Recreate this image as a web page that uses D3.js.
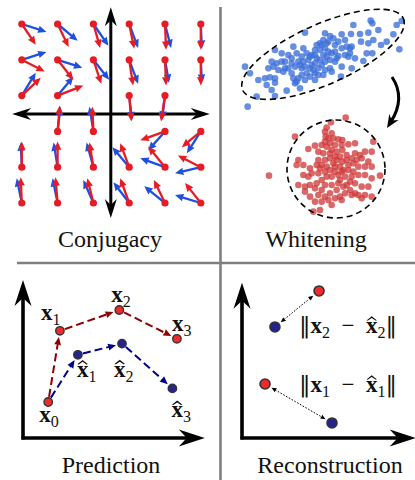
<!DOCTYPE html>
<html>
<head>
<meta charset="utf-8">
<script src="https://cdn.jsdelivr.net/npm/d3@7"></script>
<style>
  html, body { margin: 0; padding: 0; background: #fff; }
  svg { display: block; }
</style>
</head>
<body>
<script>
// ================= data =================
const panelTitles = ["Conjugacy", "Whitening", "Prediction", "Reconstruction"];

// Conjugacy: grid anchors and the two vector fields attached to them
const fieldPoints = [
  [-2.5, 2.5], [-1.5, 2.5], [-0.5, 2.5], [0.5, 2.5], [1.5, 2.5], [2.5, 2.5],
  [-2.5, 1.5], [-1.5, 1.5], [-0.5, 1.5], [0.5, 1.5], [1.5, 1.5], [2.5, 1.5],
  [-2.5, 0.5], [-1.5, 0.5], [0.5, 0.5], [1.5, 0.5],
  [-1.5, -0.5], [-0.5, -0.5], [1.5, -0.5], [2.5, -0.5],
  [-2.5, -1.5], [-1.5, -1.5], [-0.5, -1.5], [0.5, -1.5], [1.5, -1.5], [2.5, -1.5],
  [-2.5, -2.5], [-1.5, -2.5], [-0.5, -2.5], [0.5, -2.5], [1.5, -2.5], [2.5, -2.5]
];
const redVectors = [
  [0.39, -0.58], [0.31, -0.64], [0.19, -0.67], [0.14, -0.69], [0.03, -0.72], [0.0, -0.72],
  [0.64, -0.33], [0.44, -0.56], [0.22, -0.67], [0.11, -0.72], [0.03, -0.72], [0.0, -0.72],
  [0.53, 0.50], [0.72, 0.28], [0.06, -0.72], [-0.11, -0.72],
  [0.06, 0.72], [-0.03, 0.69], [-0.69, -0.25], [-0.53, -0.44],
  [0.0, 0.72], [0.0, 0.72], [-0.11, 0.69], [-0.25, 0.67], [-0.47, 0.58], [-0.64, 0.33],
  [-0.03, 0.72], [-0.06, 0.72], [-0.17, 0.69], [-0.25, 0.69], [-0.31, 0.64], [-0.44, 0.56]
];
const blueVectors = [
  [0.69, -0.22], [0.56, -0.47], [0.42, -0.61], [0.25, -0.67], [0.17, -0.67], [0.03, -0.69],
  [0.69, 0.22], [0.69, -0.22], [0.44, -0.56], [0.25, -0.67], [0.11, -0.64], [0.03, -0.64],
  [0.39, 0.64], [0.44, 0.53], [0.08, -0.69], [-0.08, -0.67],
  [0.08, 0.69], [-0.11, 0.69], [-0.47, -0.53], [-0.39, -0.61],
  [-0.03, 0.69], [-0.11, 0.69], [-0.19, 0.69], [-0.47, 0.56], [-0.69, 0.25], [-0.72, -0.17],
  [-0.14, 0.69], [-0.14, 0.69], [-0.28, 0.64], [-0.44, 0.58], [-0.58, 0.47], [-0.72, 0.22]
];
const conjAxisX = [-2.77, 2.75];
const conjAxisY = [-2.92, 2.97];

// Whitening: correlated samples (before) and whitened samples (after), in sample units
const rawSamples = [
  [407,62],[412,70],[485,75],[500,63],[355,75],[430,90],[400,98],[475,103],[210,98],[270,100],
  [285,108],[320,103],[348,102],[375,102],[493,148],[455,125],[438,135],[415,120],[400,130],[378,125],
  [395,160],[412,160],[385,183],[350,140],[345,160],[330,120],[310,125],[300,135],[295,115],[275,130],
  [260,135],[245,135],[240,150],[255,150],[270,145],[280,155],[300,155],[320,145],[335,140],[340,170],
  [360,175],[350,205],[320,200],[318,230],[300,185],[285,180],[270,185],[260,195],[250,205],[240,220],
  [245,175],[230,165],[215,160],[200,170],[185,160],[175,140],[160,165],[150,185],[140,185],[125,190],
  [115,200],[100,205],[110,185],[130,210],[145,215],[160,205],[170,190],[180,200],[195,195],[205,185],
  [220,180],[230,195],[240,190],[255,180],[270,210],[285,205],[290,215],[265,225],[240,240],[225,230],
  [210,240],[200,225],[190,235],[175,235],[180,250],[195,265],[170,220],[120,235],[105,232],[90,235],
  [70,240],[95,255],[120,248],[110,270],[120,288],[155,272],[185,245],[215,220],[235,210],[250,225],
  [45,220],[30,200],[65,290],[38,320],[120,150],[140,160],[150,205],[200,205],[210,200],[225,205],
  [205,145],[190,185],[170,175],[225,170],[240,165],[265,165],[275,170],[290,160],[310,168],[255,130],
  [265,120],[280,125],[305,175],[330,165],[345,145]
];
const whiteSamples = [
  [42,212],[272,38],[120,95],[175,320],[195,315],[355,110],[228,52],[215,68],[210,80],[212,95],
  [220,100],[235,100],[250,103],[262,105],[225,115],[240,120],[280,118],[300,115],[160,132],[180,122],
  [200,120],[215,125],[190,140],[205,145],[230,135],[245,140],[262,135],[275,150],[300,145],[315,150],
  [330,140],[350,140],[290,160],[305,165],[320,160],[340,170],[350,185],[330,185],[310,185],[295,175],
  [275,165],[255,155],[240,155],[225,160],[210,165],[190,165],[185,180],[165,190],[145,180],[130,165],
  [125,180],[145,210],[160,215],[190,205],[210,200],[225,195],[240,185],[255,185],[265,195],[280,195],
  [295,200],[310,210],[330,210],[350,220],[375,212],[340,245],[320,245],[300,235],[285,230],[270,215],
  [250,210],[230,215],[215,215],[200,225],[185,235],[210,240],[230,240],[250,235],[265,245],[285,255],
  [300,265],[270,265],[245,255],[225,265],[200,255],[180,250],[165,240],[150,245],[130,240],[150,260],
  [165,275],[190,270],[210,275],[220,285],[240,280],[255,275],[200,290],[180,290],[230,300],[260,285],
  [290,270],[310,270],[330,270],[350,275],[320,280],[240,200],[255,225],[275,240],[235,175],[215,185],
  [200,180],[262,170],[280,180],[245,165],[225,145],[210,110],[195,190],[170,205],[260,120],[230,85],
  [260,200],[290,215]
];
const rawEllipse = { cx: 264, cy: 163, rx: 264, ry: 90, angle: -24 };
const whiteCircle = { cx: 243, cy: 192, r: 147 };
const transformArrow = [[471, 231], [513, 294], [456, 384]];

// Prediction: true trajectory x0..x3 and predicted x̂1..x̂3
const trueStates = [[1.4, 2.25], [2.05, 6.7], [5.35, 8.0], [8.55, 6.2]];
const predStates = [[3.05, 5.2], [5.5, 5.9], [8.3, 3.1]];
const trueLabels = ["0", "1", "2", "3"];
const predLabels = ["1", "2", "3"];

// Reconstruction: pairs of true / reconstructed points
const reconTrue = [[1.28, 3.375], [4.28, 9.19]];
const reconHat = [[5.0, 0.94], [1.83, 6.94]];
const reconLabels = ["1", "2"];

// ================= drawing =================
const W = 415, H = 480;
const SERIF = "Liberation Serif";
const svg = d3.select("body").append("svg").attr("width", W).attr("height", H)
  .attr("font-family", SERIF);

const RED = "#e51c23", BLUE = "#1f4fe0";
const DARKRED = "#8f0000", DARKBLUE = "#00008f";
const DOTRED = "#f02a2a", DOTBLUE = "#24248f";

function unit(a, b) {
  const dx = b[0] - a[0], dy = b[1] - a[1];
  const L = Math.hypot(dx, dy) || 1;
  return [dx / L, dy / L, L];
}
// arrow head with optional concave back (stealth style)
function head(g, tip, u, len, wid, notch, color) {
  const px = -u[1], py = u[0];
  const bx = tip[0] - u[0] * len, by = tip[1] - u[1] * len;
  const nx = tip[0] - u[0] * (len - notch), ny = tip[1] - u[1] * (len - notch);
  const pts = [tip, [bx + px * wid / 2, by + py * wid / 2], [nx, ny], [bx - px * wid / 2, by - py * wid / 2]];
  g.append("path").attr("d", "M" + pts.map(p => p[0].toFixed(2) + "," + p[1].toFixed(2)).join("L") + "Z")
    .attr("fill", color);
}
function seg(g, a, b, color, w, dash) {
  const l = g.append("line").attr("x1", a[0]).attr("y1", a[1]).attr("x2", b[0]).attr("y2", b[1])
    .attr("stroke", color).attr("stroke-width", w);
  if (dash) l.attr("stroke-dasharray", dash);
  return l;
}
// axis line with a head at the end (and optionally at the start)
function axisArrow(g, a, b, w, len, wid, notch, both) {
  const u = unit(a, b);
  const back = len - notch;
  const s = both ? [a[0] + u[0] * back, a[1] + u[1] * back] : a;
  const e = [b[0] - u[0] * back, b[1] - u[1] * back];
  seg(g, s, e, "#000", w);
  head(g, b, u, len, wid, notch, "#000");
  if (both) head(g, a, [-u[0], -u[1]], len, wid, notch, "#000");
}

// -------- dividers --------
const dividers = svg.append("g").attr("stroke", "#7f7f7f").attr("stroke-width", 2.6);
dividers.append("line").attr("x1", 220.5).attr("x2", 220.5).attr("y1", 7).attr("y2", 480);
dividers.append("line").attr("x1", 17).attr("x2", 415).attr("y1", 263).attr("y2", 263);

// -------- panel titles --------
const titlePos = [[110, 247], [316, 247], [111, 473], [330, 473]];
svg.append("g").selectAll("text").data(panelTitles).join("text")
  .attr("x", (d, i) => titlePos[i][0]).attr("y", (d, i) => titlePos[i][1])
  .attr("font-family", SERIF).attr("fill", "#111")
  .attr("text-anchor", "middle").attr("font-size", 24).text(d => d);

// -------- Conjugacy --------
{
  const g = svg.append("g");
  const x = d3.scaleLinear().domain([-2.5, 2.5]).range([21.8, 200.8]);
  const y = d3.scaleLinear().domain([-2.5, 2.5]).range([203, 24]);
  const x0 = x(0) - 0.5, y0 = y(0) + 0.5;
  axisArrow(g, [x(conjAxisX[0]), y0], [x(conjAxisX[1]), y0], 3, 19, 12, 6, true);
  axisArrow(g, [x0, y(conjAxisY[0])], [x0, y(conjAxisY[1])], 3, 19, 12, 6, true);

  function drawField(vectors, color) {
    fieldPoints.forEach((p, i) => {
      const a = [x(p[0]), y(p[1])];
      const b = [x(p[0] + vectors[i][0]), y(p[1] + vectors[i][1])];
      const u = unit(a, b);
      seg(g, a, [b[0] - u[0] * 5, b[1] - u[1] * 5], color, 2.3);
      head(g, b, u, 8.5, 7.5, 0.5, color);
    });
  }
  drawField(blueVectors, BLUE);
  drawField(redVectors, RED);
  g.append("g").selectAll("circle").data(fieldPoints).join("circle")
    .attr("cx", d => x(d[0])).attr("cy", d => y(d[1])).attr("r", 3.6).attr("fill", RED);
}

// -------- Whitening --------
{
  const g = svg.append("g");
  const rx = d3.scaleLinear().domain([0, 540]).range([235, 415]);
  const ry = d3.scaleLinear().domain([0, 330]).range([0, 110]);
  const wx = d3.scaleLinear().domain([0, 420]).range([255, 395]);
  const wy = d3.scaleLinear().domain([0, 360]).range([105, 225]);

  g.append("g").selectAll("circle").data(rawSamples).join("circle")
    .attr("cx", d => rx(d[0])).attr("cy", d => ry(d[1])).attr("r", 3.3)
    .attr("fill", "#3c6fd8").attr("fill-opacity", 0.78);
  g.append("ellipse")
    .attr("cx", rx(rawEllipse.cx)).attr("cy", ry(rawEllipse.cy))
    .attr("rx", rx(rawEllipse.rx) - rx(0)).attr("ry", ry(rawEllipse.ry) - ry(0))
    .attr("transform", `rotate(${rawEllipse.angle},${rx(rawEllipse.cx)},${ry(rawEllipse.cy)})`)
    .attr("fill", "none").attr("stroke", "#000").attr("stroke-width", 1.6).attr("stroke-dasharray", "6,4");

  g.append("g").selectAll("circle").data(whiteSamples).join("circle")
    .attr("cx", d => wx(d[0])).attr("cy", d => wy(d[1])).attr("r", 3.3)
    .attr("fill", "#cf3636").attr("fill-opacity", 0.75);
  g.append("circle")
    .attr("cx", wx(whiteCircle.cx)).attr("cy", wy(whiteCircle.cy)).attr("r", wx(whiteCircle.r) - wx(0))
    .attr("fill", "none").attr("stroke", "#000").attr("stroke-width", 1.6).attr("stroke-dasharray", "6,4");

  const P = transformArrow.map(d => [rx(d[0]), ry(d[1])]);
  const u = unit(P[1], P[2]);
  const end = [P[2][0] - u[0] * 7, P[2][1] - u[1] * 7];
  g.append("path").attr("d", `M${P[0]}Q${P[1]} ${end}`).attr("fill", "none")
    .attr("stroke", "#000").attr("stroke-width", 3);
  head(g, P[2], u, 13, 11, 4, "#000");
}

// -------- math label helper --------
function mathText(g, xPos, yPos, parts, anchor, size) {
  const fs = size || 23, sub = Math.round(fs * 0.7), drop = fs * 0.22, xh = fs * 0.45;
  const t = g.append("text").attr("x", xPos).attr("y", yPos).attr("text-anchor", anchor || "start")
    .attr("font-size", fs).attr("font-family", SERIF).attr("fill", "#111");
  let idx = 0, shift = 0;
  const hats = [];
  parts.forEach(p => {
    const ts = t.append("tspan").text(p.t);
    if (p.bold) ts.attr("font-weight", "bold");
    if (p.sub) { ts.attr("font-size", sub).attr("dy", drop - shift); shift = drop; }
    else if (shift) { ts.attr("dy", -shift); shift = 0; }
    if (p.hat) hats.push(idx);
    if (p.font) ts.attr("font-family", p.font);
    idx += p.t.length;
  });
  hats.forEach(i => {
    const r = t.node().getExtentOfChar(i);
    const cx = r.x + r.width / 2, b = yPos - xh;
    g.append("path")
      .attr("d", `M${cx - 5},${b - 2.5}L${cx},${b - 6.5}L${cx + 5},${b - 2.5}` +
                 `L${cx + 4.2},${b - 1.8}L${cx},${b - 4.6}L${cx - 4.2},${b - 1.8}Z`)
      .attr("fill", "#111");
  });
  return t;
}

// -------- Prediction --------
{
  const g = svg.append("g");
  const x = d3.scaleLinear().domain([0, 10]).range([23, 203]);
  const y = d3.scaleLinear().domain([0, 10]).range([438, 278]);
  axisArrow(g, [x(0), y(0) + 1.5], [x(0), y(9.88)], 3.6, 26, 17, 8, false);
  axisArrow(g, [x(0) - 1.5, y(0)], [x(10.1), y(0)], 3.6, 26, 17, 8, false);

  const R = 4.2;
  function dashedPath(states, color) {
    for (let i = 0; i < states.length - 1; i++) {
      const a = [x(states[i][0]), y(states[i][1])];
      const b = [x(states[i + 1][0]), y(states[i + 1][1])];
      const u = unit(a, b);
      const s = [a[0] + u[0] * (R + 1), a[1] + u[1] * (R + 1)];
      const tip = [b[0] - u[0] * (R + 2), b[1] - u[1] * (R + 2)];
      seg(g, s, [tip[0] - u[0] * 6, tip[1] - u[1] * 6], color, 2, "8,4");
      head(g, tip, u, 8, 7, 0.5, color);
    }
  }
  dashedPath(trueStates, DARKRED);
  dashedPath([trueStates[0]].concat(predStates), DARKBLUE);

  g.append("g").selectAll("circle").data(trueStates).join("circle")
    .attr("cx", d => x(d[0])).attr("cy", d => y(d[1])).attr("r", R)
    .attr("fill", DOTRED).attr("stroke", "#333").attr("stroke-width", 1.4);
  g.append("g").selectAll("circle").data(predStates).join("circle")
    .attr("cx", d => x(d[0])).attr("cy", d => y(d[1])).attr("r", R)
    .attr("fill", DOTBLUE).attr("stroke", "#333").attr("stroke-width", 1.4);

  const trueOff = [[-9, 20], [-19, -11], [-8, -8], [-5, -8]];
  const predOff = [[-1, 22], [-8, 33], [-1, 29]];
  trueStates.forEach((d, i) => mathText(g, x(d[0]) + trueOff[i][0], y(d[1]) + trueOff[i][1],
    [{ t: "x", bold: true }, { t: trueLabels[i], sub: true }]));
  predStates.forEach((d, i) => mathText(g, x(d[0]) + predOff[i][0], y(d[1]) + predOff[i][1],
    [{ t: "x", bold: true, hat: true }, { t: predLabels[i], sub: true }]));
}

// -------- Reconstruction --------
{
  const g = svg.append("g");
  const x = d3.scaleLinear().domain([0, 10]).range([242, 422]);
  const y = d3.scaleLinear().domain([0, 10]).range([438, 278]);
  axisArrow(g, [x(0), y(0) + 1.5], [x(0), y(9.7)], 3.6, 26, 17, 8, false);
  axisArrow(g, [x(0) - 1.5, y(0)], [x(9.65), y(0)], 3.6, 26, 17, 8, false);

  const R = 5;
  reconTrue.forEach((d, i) => {
    const a = [x(d[0]), y(d[1])];
    const b = [x(reconHat[i][0]), y(reconHat[i][1])];
    const u = unit(a, b);
    const ta = [a[0] + u[0] * (R + 2.5), a[1] + u[1] * (R + 2.5)];
    const tb = [b[0] - u[0] * (R + 2.5), b[1] - u[1] * (R + 2.5)];
    seg(g, [ta[0] + u[0] * 4, ta[1] + u[1] * 4], [tb[0] - u[0] * 4, tb[1] - u[1] * 4], "#000", 1, "1.6,1.6");
    head(g, tb, u, 5, 4.5, 0.3, "#000");
    head(g, ta, [-u[0], -u[1]], 5, 4.5, 0.3, "#000");
  });
  g.append("g").selectAll("circle").data(reconTrue).join("circle")
    .attr("cx", d => x(d[0])).attr("cy", d => y(d[1])).attr("r", R)
    .attr("fill", DOTRED).attr("stroke", "#333").attr("stroke-width", 1.6);
  g.append("g").selectAll("circle").data(reconHat).join("circle")
    .attr("cx", d => x(d[0])).attr("cy", d => y(d[1])).attr("r", R)
    .attr("fill", DOTBLUE).attr("stroke", "#333").attr("stroke-width", 1.6);

  const normY = [392, 333];
  reconLabels.forEach((k, i) => mathText(g, 348, normY[i], [
    { t: "\u2016", font: "DejaVu Serif" }, { t: "x", bold: true }, { t: k, sub: true },
    { t: "\u2002\u2212\u2002" }, { t: "x", bold: true, hat: true }, { t: k, sub: true },
    { t: "\u2016", font: "DejaVu Serif" }
  ], "middle"));
}
</script>
</body>
</html>
